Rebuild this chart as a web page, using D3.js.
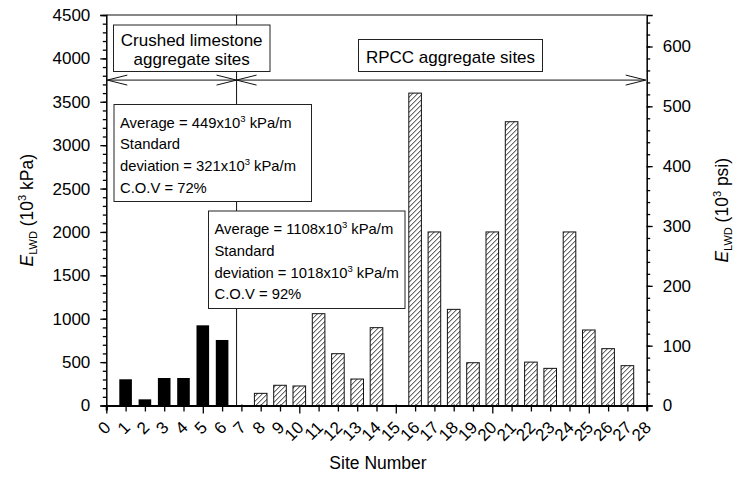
<!DOCTYPE html>
<html>
<head>
<meta charset="utf-8">
<script src="https://cdn.jsdelivr.net/npm/d3@7"></script>
<style>
  body { margin: 0; background: #fff; }
  svg { font-family: "Liberation Sans", Arial, sans-serif; }
</style>
</head>
<body>
<div id="chart"></div>
<script>
// crushed limestone sites (solid bars)
var limestoneSites = [1, 2, 3, 4, 5, 6];
var limestoneVals = [302, 71, 317, 317, 924, 755];

// RPCC aggregate sites (hatched bars)
var rpccSites = [8, 9, 10, 11, 12, 13, 14, 16, 17, 18, 19, 20, 21, 22, 23, 24, 25, 26, 27];
var rpccVals = [140, 233, 225, 1058, 597, 305, 897, 3600, 2000, 1108, 493, 2000, 3270, 500, 428, 2000, 870, 655, 459];

var xTicks = d3.range(0, 29);
var kpaTicks = d3.range(0, 4501, 500);
var psiTicks = d3.range(0, 601, 100);
var kpaPerPsi = 6.895;

var divider = 6.75;
var arrowLevel = 3750;

var svgWidth = 733, svgHeight = 481;
var margin = { top: 15, right: 86.3, bottom: 75.5, left: 106.3 };
var chartWidth = svgWidth - margin.left - margin.right;
var chartHeight = svgHeight - margin.top - margin.bottom;

var svg = d3.select("#chart").append("svg")
    .attr("width", svgWidth)
    .attr("height", svgHeight);

var defs = svg.append("defs");
var hatch = defs.append("pattern")
    .attr("id", "hatch")
    .attr("patternUnits", "userSpaceOnUse")
    .attr("width", 5)
    .attr("height", 5);
hatch.append("rect").attr("width", 5).attr("height", 5).attr("fill", "#fff");
hatch.append("path")
    .attr("d", "M-1,6 L6,-1 M-3.5,3.5 L3.5,-3.5 M1.5,8.5 L8.5,1.5")
    .attr("stroke", "#111")
    .attr("stroke-width", 0.9);

defs.append("marker")
    .attr("id", "openArrow")
    .attr("markerUnits", "userSpaceOnUse")
    .attr("viewBox", "-22 -7 24 14")
    .attr("refX", 0).attr("refY", 0)
    .attr("markerWidth", 24).attr("markerHeight", 14)
    .attr("orient", "auto-start-reverse")
    .append("path")
    .attr("d", "M-20,-5 L0,0 L-20,5")
    .attr("fill", "none")
    .attr("stroke", "#111")
    .attr("stroke-width", 1);

var chartGroup = svg.append("g")
    .attr("transform", `translate(${margin.left}, ${margin.top})`);

var xScale = d3.scaleLinear().domain([0, 28]).range([0, chartWidth]);
var yScale = d3.scaleLinear().domain([0, 4500]).range([chartHeight, 0]);
var yPsi = d3.scaleLinear().domain([0, 4500 / kpaPerPsi]).range([chartHeight, 0]);

var barW = 12.6;

// top border
chartGroup.append("line")
    .attr("x1", 0).attr("x2", chartWidth)
    .attr("y1", 0).attr("y2", 0)
    .attr("stroke", "#111").attr("stroke-width", 1.2);

// divider line between the two site groups
chartGroup.append("line")
    .attr("x1", xScale(divider)).attr("x2", xScale(divider))
    .attr("y1", 0).attr("y2", chartHeight)
    .attr("stroke", "#111").attr("stroke-width", 1);

// bars
chartGroup.selectAll("rect.lime")
    .data(limestoneSites)
    .enter().append("rect")
    .attr("class", "lime")
    .attr("x", (d, i) => xScale(d) - barW / 2)
    .attr("y", (d, i) => yScale(limestoneVals[i]))
    .attr("width", barW)
    .attr("height", (d, i) => chartHeight - yScale(limestoneVals[i]))
    .attr("fill", "#000");

chartGroup.selectAll("rect.rpcc")
    .data(rpccSites)
    .enter().append("rect")
    .attr("class", "rpcc")
    .attr("x", (d, i) => xScale(d) - barW / 2)
    .attr("y", (d, i) => yScale(rpccVals[i]))
    .attr("width", barW)
    .attr("height", (d, i) => chartHeight - yScale(rpccVals[i]))
    .attr("fill", "url(#hatch)")
    .attr("stroke", "#111")
    .attr("stroke-width", 1);

// arrows
chartGroup.append("line")
    .attr("x1", xScale(0) + 1).attr("x2", xScale(divider))
    .attr("y1", yScale(arrowLevel)).attr("y2", yScale(arrowLevel))
    .attr("stroke", "#111").attr("stroke-width", 1)
    .attr("marker-start", "url(#openArrow)")
    .attr("marker-end", "url(#openArrow)");
chartGroup.append("line")
    .attr("x1", xScale(divider)).attr("x2", xScale(28) - 1)
    .attr("y1", yScale(arrowLevel)).attr("y2", yScale(arrowLevel))
    .attr("stroke", "#111").attr("stroke-width", 1)
    .attr("marker-start", "url(#openArrow)")
    .attr("marker-end", "url(#openArrow)");

// boxes (page coordinates)
function box(x0, y0, x1, y1) {
    svg.append("rect")
        .attr("x", x0).attr("y", y0)
        .attr("width", x1 - x0).attr("height", y1 - y0)
        .attr("fill", "#fff")
        .attr("stroke", "#222")
        .attr("stroke-width", 1);
}

box(113.5, 25, 270, 71.5);
svg.append("text").attr("x", 191.7).attr("y", 45.5)
    .attr("text-anchor", "middle").attr("font-size", 17).text("Crushed limestone");
svg.append("text").attr("x", 191.7).attr("y", 64.5)
    .attr("text-anchor", "middle").attr("font-size", 17).text("aggregate sites");

box(358.5, 39.5, 542.5, 71.5);
svg.append("text").attr("x", 450.5).attr("y", 63)
    .attr("text-anchor", "middle").attr("font-size", 17).text("RPCC aggregate sites");

function statBox(x0, y0, x1, y1, avg, sd, cov) {
    box(x0, y0, x1, y1);
    var tx = x0 + 6;
    var lines = [
        ["Average = " + avg + "x10", "3", " kPa/m"],
        ["Standard"],
        ["deviation = " + sd + "x10", "3", " kPa/m"],
        ["C.O.V = " + cov]
    ];
    lines.forEach(function(parts, i) {
        var t = svg.append("text")
            .attr("x", tx)
            .attr("y", y0 + 23 + i * 21.8)
            .attr("font-size", 14.8);
        t.append("tspan").text(parts[0]);
        if (parts.length > 1) {
            t.append("tspan").attr("dy", -6).attr("font-size", 9.5).text(parts[1]);
            t.append("tspan").attr("dy", 6).text(parts[2]);
        }
    });
}

statBox(114, 104.5, 311.5, 201.5, "449", "321", "72%");
statBox(208.5, 211, 405, 308.5, "1108", "1018", "92%");

// axes
var bottomAxis = d3.axisBottom(xScale).tickValues(xTicks).tickSize(5).tickFormat("");
var xAxis = chartGroup.append("g")
    .attr("transform", `translate(0, ${chartHeight})`)
    .call(bottomAxis);
xAxis.selectAll(".tick line").attr("y1", -1).attr("y2", d => d % 5 === 0 ? 8 : 6);

xAxis.selectAll(".tick").append("text")
    .attr("fill", "#000")
    .attr("text-anchor", "end")
    .attr("transform", "translate(5, 23) rotate(-45)")
    .text(d => d);

var leftAxis = d3.axisLeft(yScale).tickValues(kpaTicks).tickSize(6).tickPadding(10).tickFormat(d3.format("d"));
var yAxis = chartGroup.append("g").call(leftAxis);
chartGroup.append("g")
    .call(d3.axisLeft(yScale).tickValues(d3.range(0, 4501, 100)).tickSize(3.5).tickFormat(""))
    .select(".domain").remove();

var rightAxis = d3.axisRight(yPsi).tickValues(psiTicks).tickSize(6).tickPadding(10).tickFormat(d3.format("d"));
var yAxisR = chartGroup.append("g")
    .attr("transform", `translate(${chartWidth}, 0)`)
    .call(rightAxis);
chartGroup.append("g")
    .attr("transform", `translate(${chartWidth}, 0)`)
    .call(d3.axisRight(yPsi).tickValues(d3.range(0, 641, 20)).tickSize(3.5).tickFormat(""))
    .select(".domain").remove();

[xAxis, yAxis, yAxisR].forEach(function(a) {
    a.selectAll("text").attr("font-size", 17).attr("font-family", "Liberation Sans, Arial, sans-serif").attr("fill", "#000");
    a.select(".domain").attr("stroke", "#000");
});
xAxis.select(".domain").attr("stroke-width", 2.2);
yAxis.select(".domain").attr("stroke-width", 1.5);
yAxisR.select(".domain").attr("stroke-width", 1.5);
chartGroup.selectAll(".tick line").attr("stroke", "#000").attr("stroke-width", 1.3);

// axis titles
svg.append("text")
    .attr("x", 378).attr("y", 469)
    .attr("text-anchor", "middle")
    .attr("font-size", 17.5)
    .text("Site Number");

function yTitle(x, unit) {
    var t = svg.append("text")
        .attr("transform", `translate(${x}, ${margin.top + chartHeight / 2}) rotate(-90)`)
        .attr("text-anchor", "middle")
        .attr("font-size", 17.5);
    t.append("tspan").attr("font-style", "italic").text("E");
    t.append("tspan").attr("font-size", 11).attr("dy", 4).text("LWD");
    t.append("tspan").attr("dy", -4).text(" (10");
    t.append("tspan").attr("font-size", 11).attr("dy", -7).text("3");
    t.append("tspan").attr("dy", 7).text(" " + unit + ")");
}
yTitle(33, "kPa");
yTitle(728, "psi");
</script>
</body>
</html>
